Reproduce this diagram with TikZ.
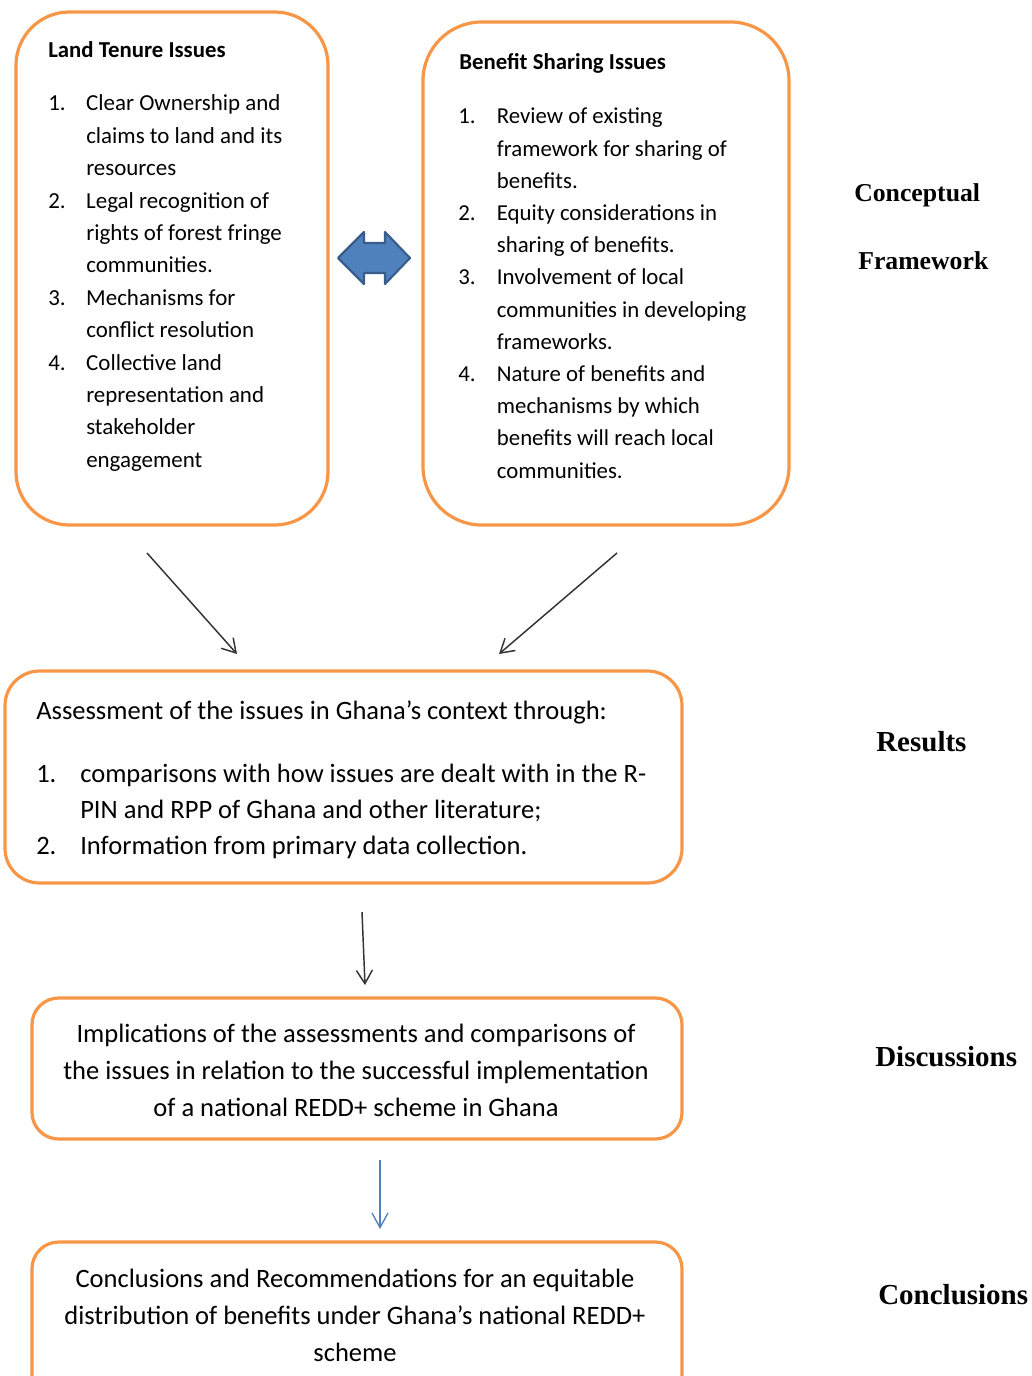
\documentclass[tikz,border=0pt]{standalone}
\usepackage{fontspec}
\setmainfont{Carlito}
\newfontfamily\labelfont{Liberation Serif}
\usetikzlibrary{arrows.meta}
\definecolor{boxorange}{HTML}{F79646}
\definecolor{arrowblue}{HTML}{4F81BD}
\definecolor{arrowedge}{HTML}{385D8A}
\definecolor{lineblack}{HTML}{333333}
\begin{document}
\begin{tikzpicture}[x=0.75pt,y=-0.75pt,
  box/.style={draw=boxorange, line width=2.4pt, inner sep=0pt},
  smalltext/.style={inner sep=0pt, anchor=base west, font=\fontsize{17.2}{24.3}\selectfont},
  bigtext/.style={inner sep=0pt, font=\fontsize{19.9}{27.5}\selectfont},
  sidelabel/.style={inner sep=0pt, anchor=base west, font=\labelfont\bfseries},
  conn/.style={draw=lineblack, line width=1.1pt, -{Straight Barb[length=10pt,width=12pt]}},
  blueconn/.style={draw=arrowblue, line width=1pt, -{Straight Barb[length=11pt,width=12pt]}}]
\useasboundingbox (0,0) rectangle (1031,1376);

% boxes
\node[box, rounded corners=40pt, minimum width=234pt, minimum height=384.75pt] (lt) at (172,268.5) {};
\node[box, rounded corners=44pt, minimum width=274.5pt, minimum height=377.25pt] (bs) at (606,273.5) {};
\node[box, rounded corners=26pt, minimum width=507.75pt, minimum height=159pt] (as) at (343.5,777) {};
\node[box, rounded corners=20pt, minimum width=487.5pt, minimum height=105.75pt] (im) at (357,1068.5) {};
\node[box, rounded corners=20pt, minimum width=487.5pt, minimum height=120pt] (cr) at (357,1322) {};

% land tenure
\node[smalltext, font=\bfseries\fontsize{17.1}{20}\selectfont] (ltt) at (48,58) {Land Tenure Issues};
\node[smalltext] (ltl) at (48,111) {\begin{tabular}[t]{@{}p{28.5pt}@{}l@{}}
1. & Clear Ownership and\\
   & claims to land and its\\
   & resources\\
2. & Legal recognition of\\
   & rights of forest fringe\\
   & communities.\\
3. & Mechanisms for\\
   & conflict resolution\\
4. & Collective land\\
   & representation and\\
   & stakeholder\\
   & engagement
\end{tabular}};

% benefit sharing
\node[smalltext, font=\bfseries\fontsize{17.1}{20}\selectfont] (bst) at (459,70) {Benefit Sharing Issues};
\node[smalltext, font=\fontsize{17.1}{24.15}\selectfont] (bsl) at (458,124) {\begin{tabular}[t]{@{}p{29pt}@{}l@{}}
1. & Review of existing\\
   & framework for sharing of\\
   & benefits.\\
2. & Equity considerations in\\
   & sharing of benefits.\\
3. & Involvement of local\\
   & communities in developing\\
   & frameworks.\\
4. & Nature of benefits and\\
   & mechanisms by which\\
   & benefits will reach local\\
   & communities.
\end{tabular}};

% double arrow
\path[fill=arrowblue, draw=arrowedge, line width=1.6pt, line join=round]
  (338,258) -- (364,232) -- (364,243) -- (385,243) -- (385,232) -- (410,258)
  -- (385,284) -- (385,273) -- (364,273) -- (364,284) -- cycle;

% assessment
\node[bigtext, anchor=base west] (ast) at (36,719) {Assessment of the issues in Ghana’s context through:};
\node[bigtext, anchor=base west, font=\fontsize{19.9}{27}\selectfont] (asl) at (36,782) {\begin{tabular}[t]{@{}p{33pt}@{}l@{}}
1. & comparisons with how issues are dealt with in the R-\\
   & PIN and RPP of Ghana and other literature;\\
2. & Information from primary data collection.
\end{tabular}};

% implications
\node[bigtext, anchor=base, font=\fontsize{19.9}{28}\selectfont] (imt) at (356,1042) {\begin{tabular}[t]{@{}c@{}}
Implications of the assessments and comparisons of\\
the issues in relation to the successful implementation\\
of a national REDD+ scheme in Ghana
\end{tabular}};

% conclusions
\node[bigtext, anchor=base, font=\fontsize{19.9}{27.75}\selectfont] (crt) at (355,1287) {\begin{tabular}[t]{@{}c@{}}
Conclusions and Recommendations for an equitable\\
distribution of benefits under Ghana’s national REDD+\\
scheme
\end{tabular}};

% side labels
\node[sidelabel, font=\labelfont\bfseries\fontsize{19.3}{22}\selectfont] (l1) at (854,202) {Conceptual};
\node[sidelabel, font=\labelfont\bfseries\fontsize{19.3}{22}\selectfont] (l2) at (858,270) {Framework};
\node[sidelabel, font=\labelfont\bfseries\fontsize{21.75}{24}\selectfont] (l3) at (876,751) {Results};
\node[sidelabel, font=\labelfont\bfseries\fontsize{21.75}{24}\selectfont] (l4) at (875,1066) {Discussions};
\node[sidelabel, font=\labelfont\bfseries\fontsize{21.75}{24}\selectfont] (l5) at (878,1304) {Conclusions};

% connectors
\coordinate (a1s) at (147,553); \coordinate (a1e) at (237,654);
\coordinate (a2s) at (617,553); \coordinate (a2e) at (499,654);
\coordinate (a3s) at (362,912); \coordinate (a3e) at (365,985);
\coordinate (a4s) at (380,1160); \coordinate (a4e) at (380,1229);
\draw[conn] (a1s) -- (a1e);
\draw[conn] (a2s) -- (a2e);
\draw[conn] (a3s) -- (a3e);
\draw[blueconn] (a4s) -- (a4e);
\end{tikzpicture}
\end{document}
